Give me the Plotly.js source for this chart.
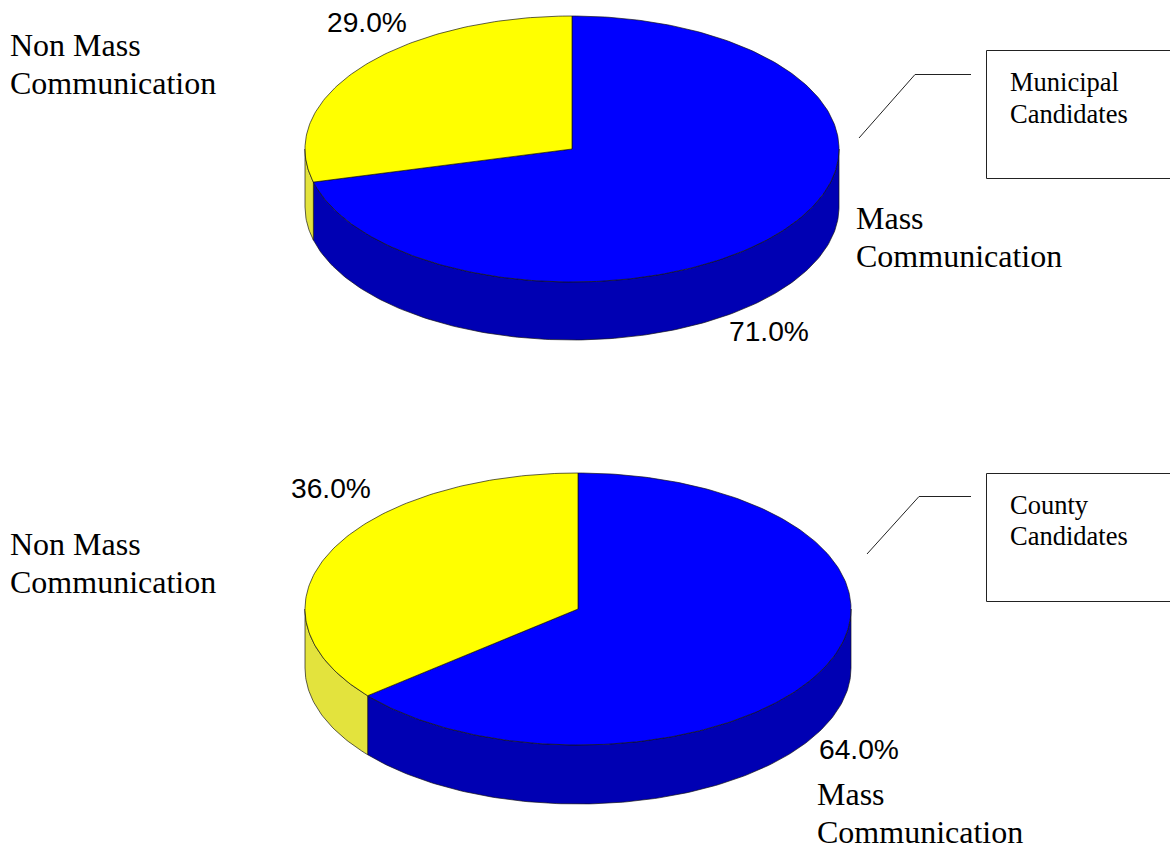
<!DOCTYPE html>
<html>
<head>
<meta charset="utf-8">
<title>Mass and non mass communication by candidate type</title>
<script src="https://cdn.plot.ly/plotly-3.0.1.min.js"></script>
<style>html,body{margin:0;padding:0;background:#fff;overflow:hidden}</style>
</head>
<body>
<div id="chart" style="width:1170px;height:846px"></div>
<script>
// Values shown on the two disks, in percent
const categories = ["Mass Communication", "Non Mass Communication"];
const municipalShares = [71.0, 29.0];
const countyShares = [64.0, 36.0];
const groupNames = [["Municipal", "Candidates"], ["County", "Candidates"]];

// Styles per category: top face and darker side wall
const topColors = ["#0000ff", "#ffff00"];
const wallColors = ["#0000b3", "#e3e33d"];
const edge = "rgba(20,20,20,0.85)";

// Disk geometry in page units
const disks = [
  {shares: municipalShares, cx: 572, cy: 149, rx: 267, ry: 133, depth: 58},
  {shares: countyShares, cx: 578, cy: 609, rx: 273, ry: 136, depth: 59}
];

// Points along the rim from angle a to angle b (degrees clockwise from 12 o'clock)
function rim(d, a, b, drop) {
  const xs = [], ys = [];
  const n = Math.max(2, Math.ceil(Math.abs(b - a)));
  for (let i = 0; i <= n; i++) {
    const t = (a + (b - a) * i / n) * Math.PI / 180;
    xs.push(d.cx + d.rx * Math.sin(t));
    ys.push(d.cy - d.ry * Math.cos(t) + drop);
  }
  return [xs, ys];
}

function polygon(x, y, fill) {
  return {type: "scatter", mode: "lines", x, y, fill: "toself", fillcolor: fill,
          line: {color: edge, width: 0.8}, hoverinfo: "skip", showlegend: false};
}

const traces = [];
disks.forEach(d => {
  let start = 0;
  const walls = [], tops = [];
  d.shares.forEach((share, i) => {
    const end = start + share * 3.6;
    // The wall is only visible on the front half of the rim
    const a = Math.max(start, 90), b = Math.min(end, 270);
    if (b > a) {
      const [ux, uy] = rim(d, a, b, 0);
      const [lx, ly] = rim(d, b, a, d.depth);
      walls.push(polygon(ux.concat(lx, ux[0]), uy.concat(ly, uy[0]), wallColors[i]));
    }
    const [tx, ty] = rim(d, start, end, 0);
    tops.push(polygon([d.cx].concat(tx, d.cx), [d.cy].concat(ty, d.cy), topColors[i]));
    start = end;
  });
  traces.push(...walls, ...tops);
});

// Single line of text at a page position
function label(text, x, y, family, size) {
  return {text, x, y, xref: "x", yref: "y", xanchor: "left", yanchor: "middle", showarrow: false,
          borderpad: 0, borderwidth: 0, align: "left", font: {family, size, color: "#000"}};
}
const serif = "Liberation Serif", sans = "Liberation Sans";
const pct = v => v.toFixed(1) + "%";

const annotations = [
  label(pct(municipalShares[1]), 327, 21.5, sans, 28.2),
  label(pct(municipalShares[0]), 729, 330.5, sans, 28.2),
  label(pct(countyShares[1]), 291, 487.5, sans, 28.2),
  label(pct(countyShares[0]), 819, 748.5, sans, 28.2),
  label("Non Mass", 10, 45, serif, 32),
  label("Communication", 10, 83, serif, 32),
  label("Non Mass", 10, 544, serif, 32),
  label("Communication", 10, 582, serif, 32),
  label("Mass", 856, 218, serif, 32),
  label("Communication", 856, 256, serif, 32),
  label("Mass", 817, 794, serif, 32),
  label("Communication", 817, 832, serif, 32),
  label(groupNames[0][0], 1010, 81.5, serif, 26.5),
  label(groupNames[0][1], 1010, 113.5, serif, 26.5),
  label(groupNames[1][0], 1010, 504.5, serif, 26.5),
  label(groupNames[1][1], 1010, 535.5, serif, 26.5)
];

const stroke = {color: "#222", width: 1};
const shapes = [
  {type: "rect", xref: "x", yref: "y", x0: 986.5, x1: 1180, y0: 50.5, y1: 178.5, line: stroke},
  {type: "rect", xref: "x", yref: "y", x0: 986.5, x1: 1180, y0: 473.5, y1: 601.5, line: stroke},
  {type: "path", xref: "x", yref: "y", path: "M859,138 L915,74.5 L971,74.5", line: stroke},
  {type: "path", xref: "x", yref: "y", path: "M867,554 L919,496.5 L971,496.5", line: stroke}
];

const hiddenAxis = {visible: false, showgrid: false, zeroline: false, fixedrange: true};
const layout = {
  width: 1170, height: 846,
  margin: {l: 0, r: 0, t: 0, b: 0},
  paper_bgcolor: "#fff", plot_bgcolor: "#fff",
  showlegend: false,
  xaxis: Object.assign({range: [0, 1170]}, hiddenAxis),
  yaxis: Object.assign({range: [846, 0]}, hiddenAxis),
  annotations, shapes
};

Plotly.newPlot("chart", traces, layout, {displayModeBar: false, staticPlot: true});
</script>
</body>
</html>
